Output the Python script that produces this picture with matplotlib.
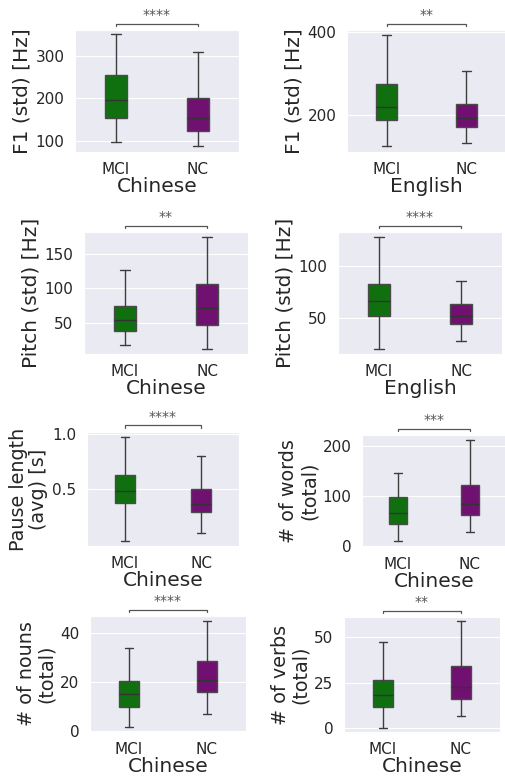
import numpy as np
import matplotlib
matplotlib.use("Agg")
import matplotlib.pyplot as plt
import seaborn as sns

sns.set_style("darkgrid")
plt.rcParams['font.family'] = ['DejaVu Sans']

groups = ["MCI", "NC"]
colors = ["#107010", "#701070"]

# one panel per feature: (whislo, q1, median, q3, whishi) for MCI and NC
ylabels = ["F1 (std) [Hz]", "F1 (std) [Hz]",
           "Pitch (std) [Hz]", "Pitch (std) [Hz]",
           "Pause length\n(avg) [s]", "# of words\n(total)",
           "# of nouns\n(total)", "# of verbs\n(total)"]
xlabels = ["Chinese", "English", "Chinese", "English",
           "Chinese", "Chinese", "Chinese", "Chinese"]
stars = ["****", "**", "**", "****", "****", "***", "****", "**"]

mci_stats = [
    [98, 155, 196, 255, 350],
    [123, 187, 218, 274, 395],
    [18.6, 38.6, 54.8, 75.2, 126],
    [20.4, 51.6, 66.2, 82.8, 127.7],
    [0.036, 0.38, 0.488, 0.63, 0.97],
    [10, 44, 67, 98, 146],
    [1.9, 9.9, 15.1, 20.4, 34],
    [0, 11.5, 18, 26.5, 47.2],
]
nc_stats = [
    [88, 123, 155, 202, 308],
    [131, 169, 192, 226, 307],
    [13.3, 47.6, 72.4, 106.7, 174],
    [28, 44.3, 52.2, 63.7, 85],
    [0.108, 0.295, 0.371, 0.5, 0.795],
    [28, 62, 85, 122.5, 213],
    [7.2, 16.1, 21, 28.8, 45.1],
    [6.9, 16.1, 22.8, 34, 58.7],
]
ylims = [(75, 360), (109, 406), (5.7, 181), (15.3, 132.5),
         (-0.01, 1.015), (-2, 222), (-0.3, 47), (-2, 61)]
yticks = [[100, 200, 300], [200, 400], [50, 100, 150], [50, 100],
          [0.5, 1.0], [0, 100, 200], [0, 20, 40], [0, 25, 50]]

# axes boxes in pixels: left, top, right, bottom
W, H = 506, 776
boxes = [(75, 30, 239, 152), (347, 30, 506, 152),
         (84, 232, 248, 354), (338, 232, 502, 354),
         (87, 432, 239, 546), (362, 435, 506, 547),
         (90, 616, 246, 732), (344, 617, 500, 732)]

fig = plt.figure(figsize=(W / 100, H / 100), dpi=100)

for i in range(8):
    l, t, r, b = boxes[i]
    ax = fig.add_axes([l / W, 1 - b / H, (r - l) / W, (b - t) / H])
    stats = []
    for g, s in zip(groups, [mci_stats[i], nc_stats[i]]):
        stats.append(dict(label=g, whislo=s[0], q1=s[1], med=s[2], q3=s[3], whishi=s[4], fliers=[]))
    bp = ax.bxp(stats, positions=[0, 1], widths=0.26, patch_artist=True,
                showfliers=False, capwidths=0.11,
                boxprops=dict(edgecolor="#4a4a4a", linewidth=1.0),
                whiskerprops=dict(color="#3d3d3d", linewidth=1.0),
                capprops=dict(color="#3d3d3d", linewidth=1.0),
                medianprops=dict(color="#333333", linewidth=1.0))
    for patch, c in zip(bp["boxes"], colors):
        patch.set_facecolor(c)
    ax.set_xlim(-0.5, 1.5)
    ax.set_ylim(*ylims[i])
    ax.set_yticks(yticks[i])
    ax.set_xticks([0, 1])
    ax.set_xticklabels(groups)
    ax.tick_params(labelsize=11, colors="#262626", pad=4)
    ax.set_xlabel(xlabels[i], fontsize=14.5, color="#262626", labelpad=0)
    two_lines = "\n" in ylabels[i]
    ax.set_ylabel(ylabels[i], fontsize=13.8 if two_lines else 14.5,
                  color="#262626", labelpad=3, linespacing=1.1)
    ax.grid(axis="x", visible=False)

    # significance bracket
    trans = ax.get_xaxis_transform()
    yb = 1 + 6.5 / (b - t)
    tick = 2.5 / (b - t)
    ax.plot([0, 0, 1, 1], [yb - tick, yb, yb, yb - tick], color="#555555",
            linewidth=0.9, transform=trans, clip_on=False)
    ax.annotate(stars[i], xy=(0.5, yb), xycoords=trans, xytext=(0, 1),
                textcoords="offset points", ha="center", va="bottom",
                fontsize=10, color="#555555")

fig.savefig("out.png", dpi=100)
